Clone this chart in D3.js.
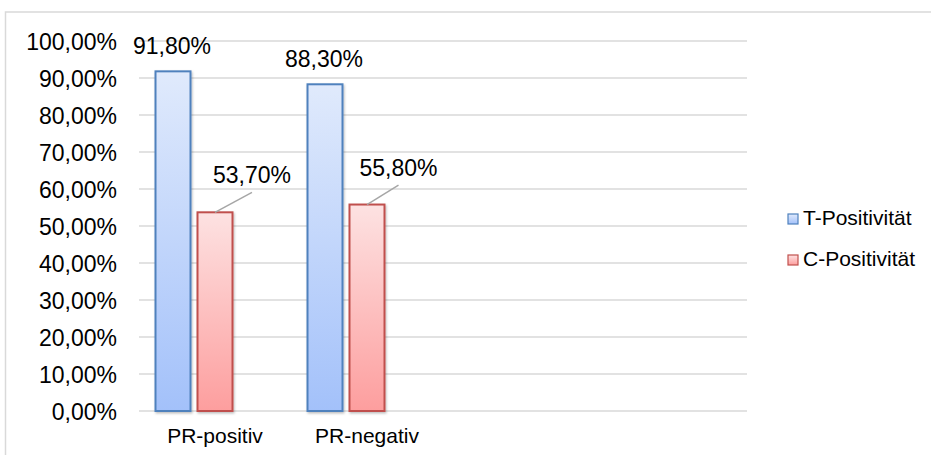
<!DOCTYPE html>
<html>
<head>
<meta charset="utf-8">
<script src="https://cdn.jsdelivr.net/npm/d3@7/dist/d3.min.js"></script>
<style>
  html, body { margin: 0; padding: 0; background: #fff; }
  svg { display: block; font-family: "Liberation Sans", Arial, sans-serif; }
</style>
</head>
<body>
<svg id="chart" width="931" height="455"></svg>
<script>
// Categories on the x axis (two extra empty slots keep the plot's spacing)
const categories = ["PR-positiv", "PR-negativ", "", ""];
const seriesNames = ["T-Positivität", "C-Positivität"];
const tValues = [0.918, 0.883];
const cValues = [0.537, 0.558];
const yTicks = [0, 0.1, 0.2, 0.3, 0.4, 0.5, 0.6, 0.7, 0.8, 0.9, 1.0];

const fmt = v => (v * 100).toFixed(2).replace(".", ",") + "%";

const svg = d3.select("#chart");
const W = 931, H = 455;
const plot = { left: 139, right: 747, top: 41, bottom: 411 };

const defs = svg.append("defs");
function grad(id, top, bottom) {
  const g = defs.append("linearGradient").attr("id", id)
    .attr("x1", 0).attr("y1", 0).attr("x2", 0).attr("y2", 1);
  g.append("stop").attr("offset", "0%").attr("stop-color", top);
  g.append("stop").attr("offset", "100%").attr("stop-color", bottom);
}
grad("gBlue", "#e0eafc", "#a3c1fa");
grad("gRed", "#fde2e2", "#fd9e9e");
const shadow = defs.append("filter").attr("id", "shadow")
  .attr("x", "-20%").attr("y", "-5%").attr("width", "140%").attr("height", "110%");
shadow.append("feDropShadow").attr("dx", 1).attr("dy", 1.5).attr("stdDeviation", 1.2)
  .attr("flood-color", "#000").attr("flood-opacity", 0.25);

// outer chart frame
svg.append("rect").attr("x", 5.5).attr("y", 12).attr("width", W + 10).attr("height", H + 10)
  .attr("fill", "#fff").attr("stroke", "#d9d9d9").attr("stroke-width", 1.5);

const x = d3.scaleBand().domain(d3.range(categories.length)).range([plot.left, plot.right]);
// three series slots per category; the third slot stays empty
const xs = d3.scaleBand().domain([0, 1, 2]).range([0, x.bandwidth()])
  .paddingInner(0.1667).paddingOuter(0.393);
const y = d3.scaleLinear().domain([0, 1]).range([plot.bottom, plot.top]);

// gridlines
svg.append("g").selectAll("line").data(yTicks).join("line")
  .attr("x1", plot.left).attr("x2", plot.right)
  .attr("y1", d => y(d)).attr("y2", d => y(d))
  .attr("stroke", "#d9d9d9").attr("stroke-width", 1.5);

// y axis labels
const yAxis = svg.append("g").attr("transform", `translate(${plot.left - 22},0)`)
  .call(d3.axisLeft(y).tickValues(yTicks).tickFormat(fmt).tickSize(0).tickPadding(0));
yAxis.select(".domain").remove();
yAxis.selectAll("text").attr("font-size", 23).attr("fill", "#000")
  .attr("font-family", "Liberation Sans, Arial, sans-serif").attr("dy", "0.36em");

// x axis labels
const xAxis = svg.append("g").attr("transform", `translate(0,${plot.bottom})`)
  .call(d3.axisBottom(x).tickFormat(i => categories[i]).tickSize(0).tickPadding(0));
xAxis.select(".domain").remove();
xAxis.selectAll("text").attr("font-size", 21).attr("fill", "#000")
  .attr("font-family", "Liberation Sans, Arial, sans-serif").attr("dy", 0).attr("y", 32);

const series = [
  { name: seriesNames[0], values: tValues, fill: "url(#gBlue)", stroke: "#4f81bd" },
  { name: seriesNames[1], values: cValues, fill: "url(#gRed)", stroke: "#c0504d" }
];

series.forEach((s, si) => {
  svg.append("g").selectAll("rect").data(s.values).join("rect")
    .attr("x", (d, i) => x(i) + xs(si))
    .attr("y", d => y(d))
    .attr("width", xs.bandwidth())
    .attr("height", d => y(0) - y(d))
    .attr("fill", s.fill).attr("stroke", s.stroke).attr("stroke-width", 2)
    .attr("filter", "url(#shadow)");
});

// value labels: T labels sit above the bars, C labels are offset with leader lines
const tLab = svg.append("g");
tValues.forEach((v, i) => {
  tLab.append("text")
    .attr("x", x(i) + xs(0) + xs.bandwidth() / 2 - 1)
    .attr("y", y(v) - 17)
    .attr("text-anchor", "middle").attr("font-size", 23).text(fmt(v));
});
const cOffsets = [[37, -29.5], [31.5, -29]];
const cLab = svg.append("g");
cValues.forEach((v, i) => {
  const cx = x(i) + xs(1) + xs.bandwidth() / 2;
  const cy = y(v);
  const [dx, dy] = cOffsets[i];
  cLab.append("line")
    .attr("x1", cx).attr("y1", cy)
    .attr("x2", cx + dx).attr("y2", cy + dy + 9.5)
    .attr("stroke", "#a6a6a6").attr("stroke-width", 1.5);
  cLab.append("text")
    .attr("x", cx + dx).attr("y", cy + dy)
    .attr("text-anchor", "middle").attr("font-size", 23).text(fmt(v));
});

// legend
const legend = svg.append("g").attr("transform", "translate(788,214)");
series.forEach((s, i) => {
  const row = legend.append("g").attr("transform", `translate(0,${i * 41})`);
  row.append("rect").attr("width", 10).attr("height", 10)
    .attr("fill", s.fill).attr("stroke", s.stroke).attr("stroke-width", 1.2);
  row.append("text").attr("x", 15).attr("y", 11).attr("font-size", 21).text(s.name);
});
</script>
</body>
</html>
